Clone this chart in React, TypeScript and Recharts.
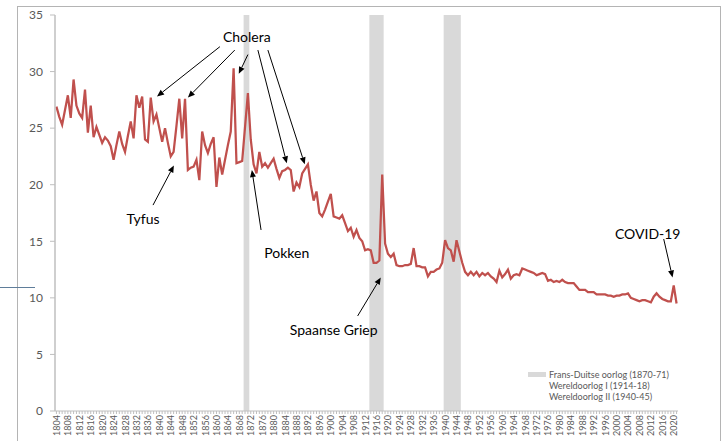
import React from "react";
import {
	ComposedChart,
	Line,
	XAxis,
	YAxis,
	ReferenceArea,
	ReferenceLine,
	ReferenceDot,
	Legend,
} from "recharts";

// sterfte per 1000 inwoners, per jaar
const firstYear = 1804;
const sterfte1804: number[] = [
	26.9, 26.0, 25.3, 26.6, 27.9, 25.9, 29.3, 27.0, 26.3, 25.9,
	28.4, 24.6, 27.0, 24.2, 25.1, 24.4, 23.7, 24.2, 23.9, 23.4,
	22.2, 23.5, 24.7, 23.6, 22.9, 24.3, 25.6, 24.1, 27.9, 26.8,
	27.8, 24.0, 23.8, 27.7, 25.6, 26.2, 25.0, 23.8, 25.0, 23.7,
	22.5, 22.9, 25.2, 27.6, 24.1, 27.6,
];
const sterfte1850: number[] = [
	21.3, 21.5, 21.6, 22.2, 20.4, 24.7, 23.5, 22.8, 23.6, 24.2,
	19.8, 22.4, 20.9, 22.2, 23.5, 24.7, 30.3, 21.9, 22.0, 22.1,
	25.1, 28.1, 24.0, 21.8, 21.0, 22.9, 21.6, 21.9, 21.5, 21.9,
	22.3, 21.4, 20.6, 21.2, 21.3, 21.5, 21.3, 19.4, 20.2, 19.8,
	21.0, 21.4, 21.8, 20.0, 18.6, 19.4, 17.5, 17.2, 17.8, 18.5,
];
const sterfte1900: number[] = [
	19.2, 17.2, 17.1, 17.0, 17.3, 16.6, 15.9, 16.2, 15.4, 16.0,
	15.3, 15.0, 14.2, 14.3, 14.2, 13.1, 13.1, 13.3, 20.9, 14.8,
	13.9, 13.6, 13.9, 12.9, 12.8, 12.8, 12.9, 12.9, 13.0, 14.4,
	12.8, 12.8, 12.7, 12.7, 11.9, 12.3, 12.3, 12.5, 12.6, 13.1,
	15.1, 14.4, 14.2, 13.2, 15.1, 14.1, 13.1, 12.3, 12.0, 12.3,
];
const sterfte1950: number[] = [
	12.0, 12.3, 11.9, 12.2, 12.0, 12.2, 11.9, 11.7, 11.4, 12.4,
	11.8, 12.1, 12.5, 11.7, 12.0, 12.1, 12.0, 12.6, 12.5, 12.4,
	12.3, 12.2, 12.0, 12.1, 12.2, 12.1, 11.5, 11.6, 11.4, 11.5,
	11.4, 11.6, 11.4, 11.3, 11.3, 11.3, 11.0, 10.7, 10.7, 10.7,
	10.5, 10.5, 10.5, 10.3, 10.3, 10.3, 10.3, 10.2, 10.2, 10.1,
];
const sterfte2000: number[] = [
	10.2, 10.2, 10.3, 10.3, 10.4, 10.0, 9.9, 9.8, 9.7, 9.8,
	9.8, 9.7, 9.6, 10.1, 10.4, 10.1, 9.9, 9.8, 9.7, 9.7,
	11.1, 9.5,
];

const sterfte = [...sterfte1804, ...sterfte1850, ...sterfte1900, ...sterfte1950, ...sterfte2000];
const years = sterfte.map((_, i) => firstYear + i);
const labelYears = years.filter((y) => (y - firstYear) % 4 === 0);
const yTicks = [0, 5, 10, 15, 20, 25, 30, 35];

const wars = [
	{ name: "Frans-Duitse oorlog (1870-71)", from: 1870, to: 1871 },
	{ name: "Wereldoorlog I (1914-18)", from: 1914, to: 1918 },
	{ name: "Wereldoorlog II (1940-45)", from: 1940, to: 1945 },
];

// text position and arrows [fromYear, fromValue, toYear, toValue] in data units
const annotations = [
	{
		text: "Cholera",
		x: 1870.6,
		y: 33.1,
		arrows: [
			[1861.2, 32.2, 1839.2, 27.8],
			[1866.4, 31.9, 1850.0, 27.7],
			[1871.0, 31.5, 1867.8, 29.8],
			[1874.5, 31.9, 1884.6, 21.9],
			[1878.0, 31.9, 1890.9, 21.8],
		],
	},
	{ text: "Tyfus", x: 1834.3, y: 17.0, arrows: [[1837.8, 18.2, 1845.1, 21.7]] },
	{ text: "Pokken", x: 1884.6, y: 14.0, arrows: [[1875.6, 16.0, 1872.4, 21.3]] },
	{ text: "Spaanse Griep", x: 1901.0, y: 7.2, arrows: [[1909.4, 8.4, 1917.5, 11.8]] },
	{ text: "COVID-19", x: 2010.9, y: 15.7, arrows: [[2016.5, 15.2, 2019.6, 11.8]] },
];

const data = years.map((year, i) => ({ year, value: sterfte[i] }));

const FONT = "Lato, 'Open Sans', sans-serif";
const AXIS_GREY = "#bfbfbf";
const LABEL_GREY = "#595959";

const YearTick = (props: any) => {
	const { x, y, payload } = props;
	if (!labelYears.includes(payload.value)) return <g />;
	return (
		<text
			x={x}
			y={y}
			transform={`rotate(-90, ${x}, ${y})`}
			textAnchor="end"
			dominantBaseline="central"
			fontSize={9}
			fontFamily={FONT}
			fill={LABEL_GREY}
		>
			{payload.value}
		</text>
	);
};

const Arrow = (p: any) => {
	const { x1, y1, x2, y2 } = p;
	const a = Math.atan2(y2 - y1, x2 - x1);
	const len = 7;
	const half = 3;
	const bx = x2 - len * Math.cos(a);
	const by = y2 - len * Math.sin(a);
	const pts = `${x2},${y2} ${bx + half * Math.sin(a)},${by - half * Math.cos(a)} ${bx - half * Math.sin(a)},${by + half * Math.cos(a)}`;
	return (
		<g>
			<line x1={x1} y1={y1} x2={bx} y2={by} stroke="#000" strokeWidth={1} />
			<polygon points={pts} fill="#000" />
		</g>
	);
};

const WarLegend = () => (
	<div style={{ fontFamily: FONT, fontSize: 9, color: LABEL_GREY, lineHeight: "11px" }}>
		{wars.map((w, i) => (
			<div key={w.name} style={{ display: "flex", alignItems: "center" }}>
				{/* only the first war shows its swatch in the original */}
				<span
					style={{
						display: "inline-block",
						width: 18,
						height: 5,
						marginRight: 3,
						background: i === 0 ? "#d9d9d9" : "transparent",
					}}
				/>
				<span>{w.name}</span>
			</div>
		))}
	</div>
);

const App: React.FC = () => {
	return (
		<div style={{ position: "absolute", left: 0, top: 0, width: 725, height: 441, background: "#fff", overflow: "hidden" }}>
			<div style={{ position: "absolute", left: 17, top: 6, width: 702, height: 450, border: "1px solid #b4b4b4" }} />
			<div style={{ position: "absolute", left: 0, top: 287, width: 35, height: 1, background: "#5f7d9a" }} />
			<ComposedChart
				width={725}
				height={441}
				data={data}
				margin={{ top: 15, right: 47, bottom: 0, left: 15 }}
				style={{ position: "absolute", left: 0, top: 0 }}
			>
				{wars.map((w) => (
					<ReferenceArea
						key={w.name}
						x1={w.from - 0.5}
						x2={w.to + 0.5}
						y1={0}
						y2={35}
						fill="#d9d9d9"
						fillOpacity={1}
						stroke="none"
						ifOverflow="visible"
					/>
				))}
				<XAxis
					type="number"
					dataKey="year"
					domain={[firstYear - 0.5, years[years.length - 1] + 0.5]}
					ticks={years}
					interval={0}
					tick={<YearTick />}
					tickSize={3}
					tickMargin={1}
					tickLine={{ stroke: AXIS_GREY }}
					axisLine={{ stroke: AXIS_GREY }}
					height={30}
				/>
				<YAxis
					type="number"
					domain={[0, 35]}
					ticks={yTicks}
					interval={0}
					width={40}
					tickSize={5}
					tickMargin={7}
					tickLine={{ stroke: AXIS_GREY }}
					axisLine={{ stroke: AXIS_GREY, strokeWidth: 1.5 }}
					tick={{ fill: LABEL_GREY, fontSize: 12, fontFamily: FONT }}
				/>
				<Line
					type="linear"
					dataKey="value"
					stroke="#c0504d"
					strokeWidth={2.25}
					dot={false}
					legendType="none"
					isAnimationActive={false}
				/>
				{annotations.flatMap((an) =>
					an.arrows.map((ar, j) => (
						<ReferenceLine
							key={`${an.text}-${j}`}
							segment={[
								{ x: ar[0], y: ar[1] },
								{ x: ar[2], y: ar[3] },
							]}
							ifOverflow="visible"
							shape={Arrow}
						/>
					))
				)}
				{annotations.map((an) => (
					<ReferenceDot
						key={an.text}
						x={an.x}
						y={an.y}
						r={0}
						ifOverflow="visible"
						shape={(p: any) => (
							<text
								x={p.cx}
								y={p.cy}
								textAnchor="middle"
								dominantBaseline="central"
								fontSize={14}
								fontFamily={FONT}
								fill="#000"
							>
								{an.text}
							</text>
						)}
					/>
				))}
				<Legend
					layout="vertical"
					align="center"
					verticalAlign="middle"
					wrapperStyle={{ left: 528, top: 369, width: 190 }}
					content={() => <WarLegend />}
				/>
			</ComposedChart>
		</div>
	);
};

export default App;
